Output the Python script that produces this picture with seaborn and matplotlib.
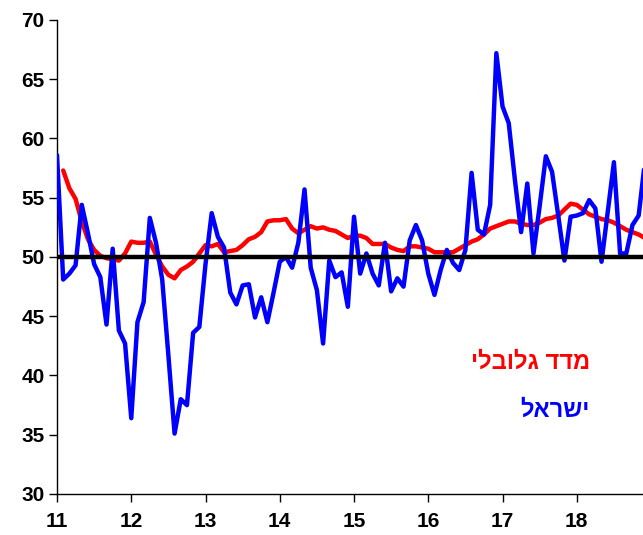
import numpy as np
import pandas as pd
import matplotlib
matplotlib.use("Agg")
import matplotlib.pyplot as plt
import seaborn as sns

# Monthly values, Jan 2011 onwards
israel = [58.6, 48.1, 48.6, 49.3, 54.4, 52.0, 49.4, 48.3, 44.3, 50.7,
          43.8, 42.7, 36.4, 44.5, 46.2, 53.3, 51.2, 48.1, 41.7, 35.1,
          38.0, 37.5, 43.6, 44.1, 49.4, 53.7, 51.7, 50.8, 47.0, 46.0,
          47.6, 47.7, 44.9, 46.6, 44.5, 47.0, 49.6, 50.0, 49.1, 51.2,
          55.7, 49.1, 47.2, 42.7, 49.7, 48.3, 48.7, 45.8, 53.4, 48.6,
          50.3, 48.6, 47.6, 51.2, 47.1, 48.2, 47.5, 51.4, 52.7, 51.4,
          48.6, 46.8, 48.9, 50.6, 49.5, 48.9, 50.6, 57.1, 52.3, 51.9,
          54.4, 67.2, 62.7, 61.3, 56.5, 52.1, 56.2, 50.3, 54.3, 58.5,
          57.2, 53.5, 49.7, 53.4, 53.5, 53.7, 54.8, 54.1, 49.6, 53.8,
          58.0, 50.3, 50.3, 52.7, 53.5, 58.0]

global_idx = [np.nan, 57.3, 55.8, 54.9, 53.0, 51.5, 50.6, 50.1, 49.9, 49.8,
              49.7, 50.3, 51.3, 51.2, 51.2, 51.3, 50.2, 49.2, 48.5, 48.2,
              48.9, 49.2, 49.6, 50.3, 51.0, 50.9, 51.1, 50.4, 50.5, 50.6,
              51.0, 51.5, 51.7, 52.1, 53.0, 53.1, 53.1, 53.2, 52.4, 52.0,
              52.3, 52.6, 52.4, 52.5, 52.3, 52.2, 51.9, 51.6, 51.8, 51.8,
              51.6, 51.1, 51.1, 51.1, 50.8, 50.6, 50.5, 50.9, 50.9, 50.8,
              50.7, 50.4, 50.4, 50.4, 50.4, 50.7, 51.0, 51.3, 51.5, 51.9,
              52.4, 52.6, 52.8, 53.0, 53.0, 52.8, 52.7, 52.7, 52.9, 53.2,
              53.3, 53.5, 54.0, 54.5, 54.4, 54.0, 53.6, 53.4, 53.2, 53.1,
              52.9, 52.6, 52.3, 52.1, 51.9, 51.6]

x_ticks = [11, 12, 13, 14, 15, 16, 17, 18]
y_ticks = [30, 35, 40, 45, 50, 55, 60, 65, 70]
label_global = "מדד גלובלי"
label_israel = "ישראל"

n = len(israel)
xs = 11 + np.arange(n) / 12.0
df = pd.DataFrame({"x": xs, "israel": israel, "global": global_idx})

sns.set_style("white")
plt.rcParams['font.family'] = ['Liberation Sans', 'DejaVu Sans']

fig = plt.figure(figsize=(6.43, 5.35), dpi=100)
ax = fig.add_axes([57 / 643, 41 / 535, 1 - 57 / 643, (494 - 20) / 535])

sns.lineplot(data=df, x="x", y="global", color="#FF0000", linewidth=3.2, ax=ax, zorder=2)
sns.lineplot(data=df, x="x", y="israel", color="#0000FF", linewidth=3.2, ax=ax, zorder=3)
ax.axhline(50, color="black", linewidth=3.2, zorder=4)

ax.set_xlim(11, 11 + 94.7 / 12)
ax.set_ylim(30, 70)
ax.set_xticks(x_ticks)
ax.set_yticks(y_ticks)
ax.set_xticklabels([str(t) for t in x_ticks], fontsize=15, fontweight="bold", color="black")
ax.set_yticklabels([str(t) for t in y_ticks], fontsize=15, fontweight="bold", color="black")
ax.set_xlabel("")
ax.set_ylabel("")

for s in ["top", "right"]:
    ax.spines[s].set_visible(False)
for s in ["left", "bottom"]:
    ax.spines[s].set_color("black")
    ax.spines[s].set_linewidth(1.0)
ax.tick_params(axis="both", direction="out", length=6, width=1, color="black", left=True, bottom=True)
ax.tick_params(axis="x", pad=7)
ax.tick_params(axis="y", pad=3)

# Hebrew labels (reversed for visual right-to-left order)
fig.text(590 / 643, 1 - 362 / 535, label_global[::-1], color="#FF0000", fontsize=17,
         fontweight="bold", ha="right", va="center")
fig.text(590 / 643, 1 - 410 / 535, label_israel[::-1], color="#0000FF", fontsize=17,
         fontweight="bold", ha="right", va="center")

fig.savefig("out.png", dpi=100)
